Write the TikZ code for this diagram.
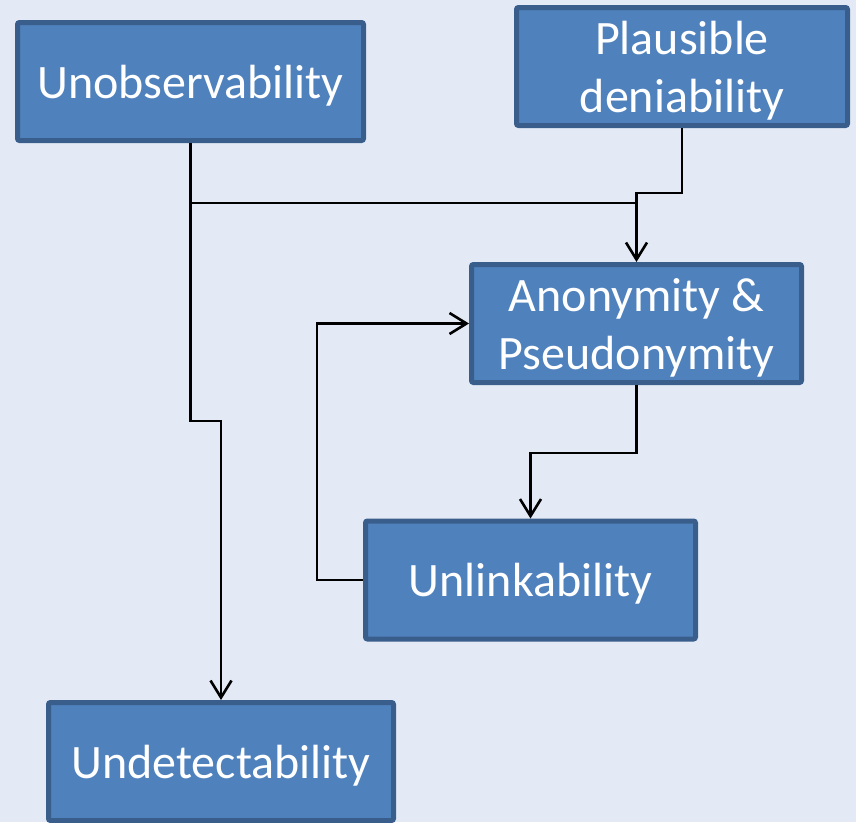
\documentclass[tikz,border=0pt]{standalone}
\usepackage{fontspec}
\setmainfont{Carlito}
\usetikzlibrary{arrows.meta}
\definecolor{bgblue}{RGB}{227,234,246}
\definecolor{boxblue}{RGB}{79,129,189}
\definecolor{edgeblue}{RGB}{58,94,140}

\begin{document}
\begin{tikzpicture}[x=1pt, y=-1pt,
    prop/.style={rectangle, rounded corners=2pt, fill=boxblue, draw=edgeblue,
        line width=5pt, minimum height=118pt, text=white, align=center,
        text depth=0pt, font=\fontsize{48}{58}\selectfont},
    link/.style={line width=2.6pt},
    >={Straight Barb[length=17pt,width=21pt]}]
    % Background
    \fill[bgblue] (0,0) rectangle (856,822);
    \useasboundingbox (0,0) rectangle (856,822);

    % Properties
    \node[prop, minimum width=346pt] (unobs) at (190.5,81.5) {Unobservability};
    \node[prop, minimum width=331pt] (plaus) at (682,66.5) {Plausible\\deniability};
    \node[prop, minimum width=330pt] (anon) at (636.5,323.5) {Anonymity \&\\Pseudonymity};
    \node[prop, minimum width=330pt] (unlink) at (530.5,580) {Unlinkability};
    \node[prop, minimum width=345pt] (undet) at (221,761.5) {Undetectability};

    % Bends
    \coordinate (plausbend) at (636.5,193);
    \coordinate (unobsbend) at (636.5,203);
    \coordinate (undetbend) at (221,421);
    \coordinate (anonbend) at (530.5,453);
    \coordinate (loopbend) at (317,323.5);

    % Into anonymity from above
    \draw[link, ->] (plaus.south) |- (plausbend) -- (anon.north);
    \draw[link] (unobs.south) |- (unobsbend);

    % Unobservability down to undetectability
    \draw[link, ->] (unobs.south) |- (undetbend) -- (undet.north);

    % Anonymity and unlinkability
    \draw[link, ->] (anon.south) |- (anonbend) -- (unlink.north);
    \draw[link, ->] (unlink.west) -| (loopbend) -- (anon.west);
\end{tikzpicture}
\end{document}
